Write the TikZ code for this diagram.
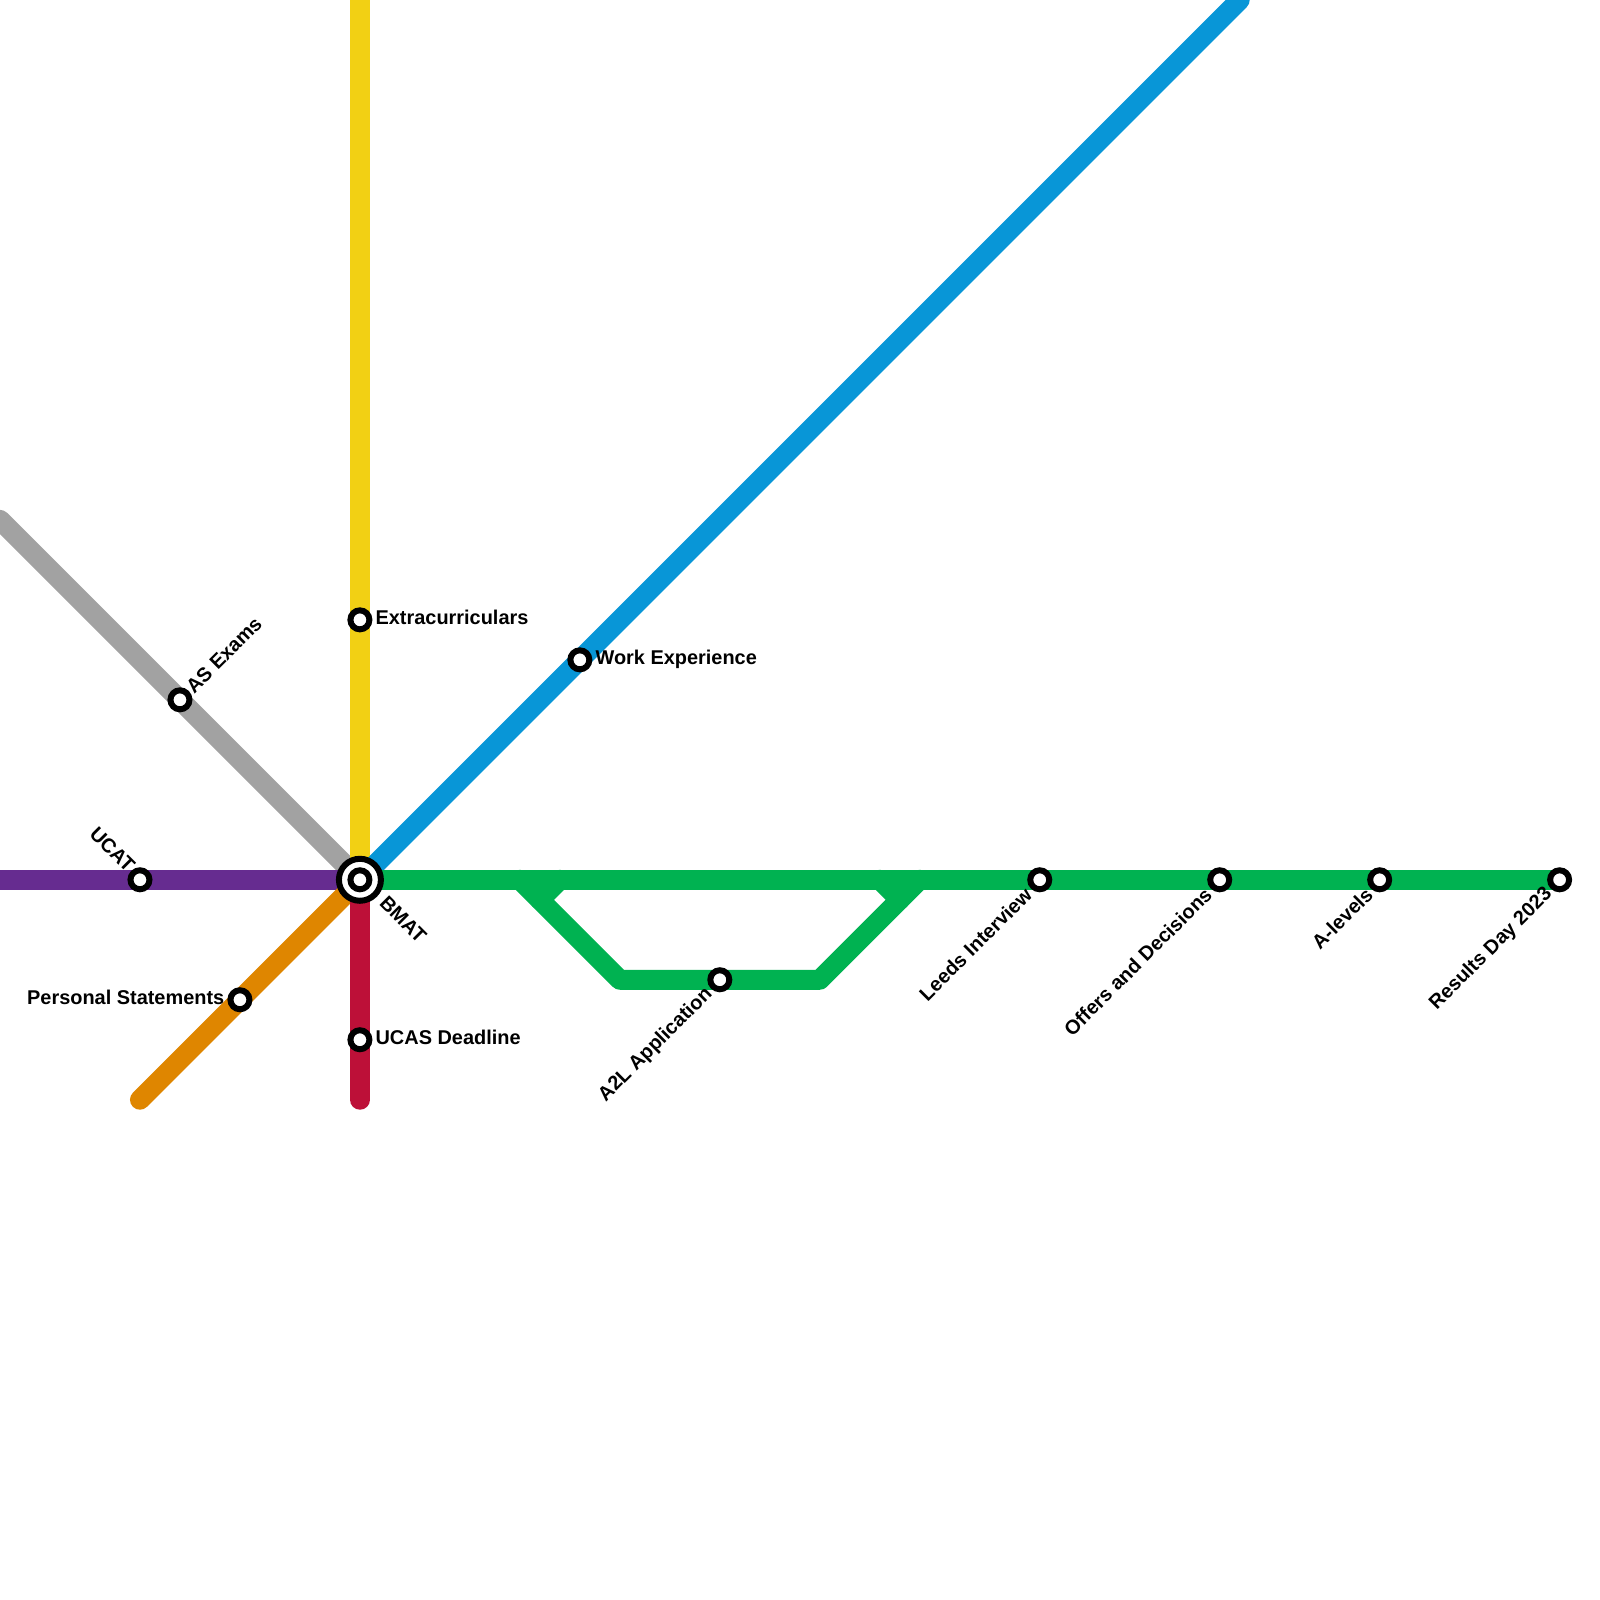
\documentclass[tikz,border=0pt]{standalone}
\usepackage{fontspec}
\setmainfont{Liberation Sans}
\definecolor{linered}{HTML}{BD1038}
\definecolor{lineorange}{HTML}{DF8600}
\definecolor{lineyellow}{HTML}{F2D014}
\definecolor{linegreen}{HTML}{00B251}
\definecolor{lineblue}{HTML}{0896D7}
\definecolor{linepurple}{HTML}{662C90}
\definecolor{linegrey}{HTML}{A2A2A2}
\tikzset{
  railline/.style={line width=2mm, line cap=round, line join=round},
  stop/.style={circle, draw=black, fill=white, line width=0.6mm, minimum size=1.9mm, inner sep=0pt},
  hub/.style={circle, draw=black, fill=white, line width=0.6mm, minimum size=4.2mm, inner sep=0pt},
  stoplabel/.style={inner sep=0pt, font=\fontsize{5.67}{7}\selectfont\bfseries}
}
\begin{document}
\begin{tikzpicture}[x=0.1mm, y=-0.1mm]
        \useasboundingbox (0,0) rectangle (1600,1600.4);
        \coordinate (yellowend) at (360,0);
        \coordinate (blueend) at (1240,0);
        \coordinate (greyend) at (0,520);
        \coordinate (purpleend) at (0,880);
        \coordinate (orangeend) at (140,1100);
        \coordinate (redend) at (360,1100);
        \coordinate (bmatpt) at (360,880);
        \coordinate (resultspt) at (1560,880);
        \coordinate (splitleft) at (520,880);
        \coordinate (bendleft) at (620,980);
        \coordinate (bendright) at (820,980);
        \coordinate (splitright) at (920,880);
        \coordinate (stubleft) at (540,900);
        \coordinate (stubleftend) at (560,880);
        \coordinate (stubright) at (900,900);
        \coordinate (stubrightend) at (880,880);
        \draw[railline, color=linegrey] (greyend) -- (bmatpt);
        \draw[railline, color=lineyellow] (yellowend) -- (bmatpt);
        \draw[railline, color=lineblue] (blueend) -- (bmatpt);
        \draw[railline, color=linepurple] (purpleend) -- (bmatpt);
        \draw[railline, color=lineorange] (orangeend) -- (bmatpt);
        \draw[railline, color=linered] (redend) -- (bmatpt);
        \draw[railline, color=linegreen] (bmatpt) -- (resultspt);
        \draw[railline, color=linegreen] (splitleft) -- (bendleft) -- (bendright) -- (splitright);
        \draw[railline, color=linegreen] (stubleft) -- (stubleftend);
        \draw[railline, color=linegreen] (stubright) -- (stubrightend);
        \node[hub] (bmat) at (bmatpt) {};
        \node[stop] (bmatin) at (bmatpt) {};
        \node[stop] (ucat) at (140,880) {};
        \node[stop] (asexams) at (180,700) {};
        \node[stop] (personal) at (240,1000) {};
        \node[stop] (extra) at (360,620) {};
        \node[stop] (work) at (580,660) {};
        \node[stop] (ucas) at (360,1040) {};
        \node[stop] (atwol) at (720,980) {};
        \node[stop] (leeds) at (1040,880) {};
        \node[stop] (offers) at (1220,880) {};
        \node[stop] (alevels) at (1380,880) {};
        \node[stop] (results) at (resultspt) {};
        \node[stoplabel, anchor=west] (extralabel) at (375,618) {Extracurriculars};
        \node[stoplabel, anchor=west] (worklabel) at (595,660) {Work Experience};
        \node[stoplabel, anchor=west] (ucaslabel) at (375,1038) {UCAS Deadline};
        \node[stoplabel, anchor=east] (personallabel) at (225,998) {Personal Statements};
        \node[stoplabel, anchor=west, rotate=45] (asexamslabel) at (189,690) {AS Exams};
        \node[stoplabel, anchor=east, rotate=-45] (ucatlabel) at (132,869) {UCAT};
        \node[stoplabel, anchor=west, rotate=-45] (bmatlabel) at (383,899) {BMAT};
        \node[stoplabel, anchor=east, rotate=45] (atwollabel) at (710,991) {A2L Application};
        \node[stoplabel, anchor=east, rotate=45] (leedslabel) at (1029,891) {Leeds Interview};
        \node[stoplabel, anchor=east, rotate=45] (offerslabel) at (1209,891) {Offers and Decisions};
        \node[stoplabel, anchor=east, rotate=45] (alevelslabel) at (1370,891) {A-levels};
        \node[stoplabel, anchor=east, rotate=45] (resultslabel) at (1550,891) {Results Day 2023};
        \end{tikzpicture}
\end{document}
